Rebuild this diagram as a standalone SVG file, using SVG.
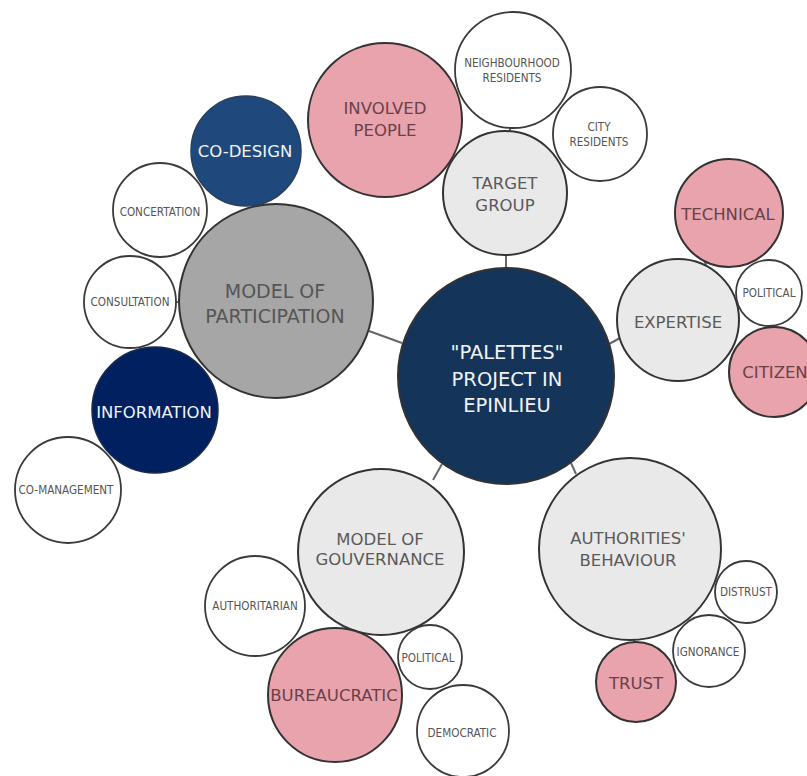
<svg xmlns="http://www.w3.org/2000/svg" width="807" height="776" viewBox="0 0 807 776">
<style>
.c{stroke:#333;stroke-width:2}
.w{fill:#fff;stroke:#3a3a3a;stroke-width:1.8}
.lg{fill:#e9e9e9}
.pk{fill:#e9a3ac}
.t{font-family:"DejaVu Sans",Verdana,sans-serif;text-anchor:middle}
.m{font-size:16.5px;fill:#5a5a5a}
.mp{font-size:16.5px;fill:#6a4148}
.mw{font-size:16.5px;fill:#f2f2f2}
.b{font-size:19px;fill:#555}
.s{font-family:"DejaVu Sans Condensed","DejaVu Sans",sans-serif;font-size:11.6px;fill:#555;text-anchor:middle}
.ln{stroke:#666;stroke-width:2;fill:none}
</style>
<g id="connectors">
<line class="ln" x1="506" y1="254" x2="506" y2="270"/>
<line class="ln" x1="510" y1="126" x2="510" y2="133"/>
<line class="ln" x1="369" y1="331" x2="402" y2="343"/>
<line class="ln" x1="609" y1="344" x2="620" y2="338"/>
<line class="ln" x1="442" y1="464" x2="433" y2="480"/>
<line class="ln" x1="571" y1="463" x2="576" y2="474"/>
<line class="ln" x1="634" y1="638" x2="634" y2="644"/>
<line class="ln" x1="704" y1="260" x2="706" y2="265"/>
<line class="ln" x1="175" y1="302" x2="181" y2="302"/>
</g>
<g id="n-palettes"><circle class="c" cx="506" cy="376" r="108" fill="#14345a"/>
<text class="t" x="507" y="358.5" font-size="19.5" fill="#f2f2f2">"PALETTES"</text>
<text class="t" x="507" y="385.5" font-size="19.5" fill="#f2f2f2">PROJECT IN</text>
<text class="t" x="507" y="411.5" font-size="19.5" fill="#f2f2f2">EPINLIEU</text></g>
<g id="n-target"><circle class="c lg" cx="505" cy="193" r="62"/>
<text class="t m" x="505" y="189">TARGET</text><text class="t m" x="505" y="211">GROUP</text></g>
<g id="n-neighbourhood"><circle class="w" cx="513" cy="70" r="58"/>
<text class="s" x="512" y="67">NEIGHBOURHOOD</text><text class="s" x="512" y="82">RESIDENTS</text></g>
<g id="n-city"><circle class="w" cx="600" cy="134" r="47"/>
<text class="s" x="599" y="131">CITY</text><text class="s" x="599" y="146">RESIDENTS</text></g>
<g id="n-involved"><circle class="c pk" cx="385" cy="120" r="77"/>
<text class="t mp" x="385" y="114">INVOLVED</text><text class="t mp" x="385" y="136">PEOPLE</text></g>
<g id="n-expertise"><circle class="c lg" cx="678" cy="320" r="61"/>
<text class="t m" x="678" y="328">EXPERTISE</text></g>
<g id="n-technical"><circle class="c pk" cx="729" cy="213" r="54"/>
<text class="t mp" x="728" y="220">TECHNICAL</text></g>
<g id="n-political-1"><circle class="w" cx="769" cy="293" r="33"/>
<text class="s" x="769" y="297">POLITICAL</text></g>
<g id="n-citizen"><circle class="c pk" cx="774" cy="372" r="45"/>
<text class="t mp" x="775" y="378">CITIZEN</text></g>
<g id="n-participation"><circle class="c" cx="276" cy="301" r="97" fill="#a6a6a6"/>
<text class="t b" x="275" y="298">MODEL OF</text><text class="t b" x="275" y="323">PARTICIPATION</text></g>
<g id="n-codesign"><circle cx="246" cy="151" r="55" fill="#1f497d" stroke="#2a3f5a" stroke-width="1.5"/>
<text class="t mw" x="245" y="157">CO-DESIGN</text></g>
<g id="n-concertation"><circle class="w" cx="160" cy="210" r="47"/>
<text class="s" x="160" y="216">CONCERTATION</text></g>
<g id="n-consultation"><circle class="w" cx="130" cy="302" r="46"/>
<text class="s" x="130" y="306">CONSULTATION</text></g>
<g id="n-information"><circle cx="155" cy="410" r="63" fill="#002060" stroke="#1a2a4a" stroke-width="1.5"/>
<text class="t mw" x="154" y="418">INFORMATION</text></g>
<g id="n-comanagement"><circle class="w" cx="68" cy="490" r="53"/>
<text class="s" x="66" y="494">CO-MANAGEMENT</text></g>
<g id="n-gouvernance"><circle class="c lg" cx="381" cy="552" r="83"/>
<text class="t m" x="380" y="545">MODEL OF</text><text class="t m" x="380" y="565">GOUVERNANCE</text></g>
<g id="n-authoritarian"><circle class="w" cx="255" cy="606" r="50"/>
<text class="s" x="255" y="610">AUTHORITARIAN</text></g>
<g id="n-bureaucratic"><circle class="c pk" cx="335" cy="695" r="67"/>
<text class="t mp" x="334" y="701">BUREAUCRATIC</text></g>
<g id="n-political-2"><circle class="w" cx="430" cy="657" r="32"/>
<text class="s" x="428" y="662">POLITICAL</text></g>
<g id="n-democratic"><circle class="w" cx="463" cy="731" r="46"/>
<text class="s" x="462" y="737">DEMOCRATIC</text></g>
<g id="n-authorities"><circle class="c lg" cx="630" cy="549" r="91"/>
<text class="t m" x="628" y="544">AUTHORITIES'</text><text class="t m" x="628" y="566">BEHAVIOUR</text></g>
<g id="n-distrust"><circle class="w" cx="746" cy="592" r="31"/>
<text class="s" x="746" y="596">DISTRUST</text></g>
<g id="n-ignorance"><circle class="w" cx="709" cy="651" r="36"/>
<text class="s" x="708" y="656">IGNORANCE</text></g>
<g id="n-trust"><circle class="c pk" cx="636" cy="682" r="40"/>
<text class="t mp" x="636" y="689">TRUST</text></g>
</svg>
